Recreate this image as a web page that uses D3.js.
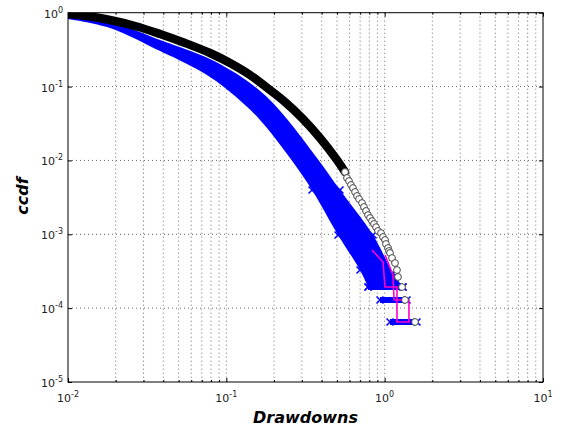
<!DOCTYPE html>
<html lang="en">
<head>
<meta charset="UTF-8">
<title>Drawdowns ccdf</title>
<script src="https://d3js.org/d3.v7.min.js"></script>
<style>
  body { margin: 0; background: #fff; }
  text { font-family: "DejaVu Sans", sans-serif; }
</style>
</head>
<body>
<div id="chart"></div>
<script>
// empirical ccdf of drawdowns (black circles), dense part
const blackLine = [
  [0.0100, 0.960], [0.01377, 0.888], [0.01841, 0.796], [0.02649, 0.661],
  [0.03813, 0.515], [0.05483, 0.389], [0.07883, 0.2847], [0.1055, 0.2084],
  [0.1411, 0.1434], [0.1780, 0.0987], [0.2348, 0.0618], [0.3049, 0.0364],
  [0.3905, 0.0201], [0.5000, 0.01013], [0.5616, 0.00697]
];
// sparse tail of the same series, drawn as open circles
const blackTail = [
  [0.5616, 0.00697], [0.578, 0.00578], [0.5953, 0.00526], [0.613, 0.00465],
  [0.6310, 0.00423], [0.650, 0.00374], [0.6688, 0.00330], [0.689, 0.00300],
  [0.7193, 0.00265], [0.740, 0.00234], [0.7625, 0.00207], [0.785, 0.00182],
  [0.8079, 0.00166], [0.832, 0.00151], [0.8563, 0.00138], [0.882, 0.00125],
  [0.9076, 0.00111], [0.9480, 0.00104], [0.976, 0.000919], [1.005, 0.000837],
  [1.019, 0.000739], [1.050, 0.000652], [1.065, 0.000594], [1.081, 0.000558],
  [1.113, 0.000477], [1.162, 0.000408], [1.196, 0.000328], [1.214, 0.000264],
  [1.287, 0.000193], [1.344, 0.000129], [1.554, 0.0000649]
];
// blue crosses (surrogate series): upper and lower edge of the band
const blueUpper = [
  [0.0100, 0.960], [0.01841, 0.760], [0.03813, 0.427], [0.05483, 0.3224],
  [0.07883, 0.2361], [0.1086, 0.1624], [0.1411, 0.1117], [0.1887, 0.0658],
  [0.2416, 0.0364], [0.3738, 0.01078], [0.5223, 0.00398], [0.8441, 0.000978],
  [1.129, 0.000299], [1.306, 0.000193]
];
const blueLower = [
  [0.0100, 0.822], [0.01841, 0.621], [0.03813, 0.303], [0.05483, 0.2084],
  [0.07883, 0.135], [0.1134, 0.0745], [0.1632, 0.0353], [0.2525, 0.01078],
  [0.3476, 0.00398], [0.5075, 0.000978], [0.6985, 0.000328], [0.7848, 0.000193]
];
// last ccdf levels, where the crosses pile up in rows
const rowLevels = [0.000193, 0.000129, 0.0000649];
const rowStart = [0.7848, 0.9344, 1.081];
const rowEnd = [1.306, 1.384, 1.600];
// magenta step lines visible in the tail
const magentaA = [[0.8318, 0.000613], [0.9761, 0.000421], [1.005, 0.000193], [1.196, 0.000193], [1.196, 0.0000649], [1.445, 0.0000649]];
const magentaB = [[1.005, 0.000524], [1.129, 0.000281], [1.146, 0.000129], [1.424, 0.000129], [1.424, 0.0000649]];

const xMajor = [0.01, 0.1, 1, 10];
const xExp = ["-2", "-1", "0", "1"];
const yMajor = [1e-5, 1e-4, 1e-3, 1e-2, 1e-1, 1];
const yExp = ["-5", "-4", "-3", "-2", "-1", "0"];

const width = 565, height = 428;
const mLeft = 68, mRight = 543, mTop = 12.7, mBottom = 382;

const svg = d3.select("#chart").append("svg")
  .attr("width", width).attr("height", height);

const x = d3.scaleLog().domain([0.01, 10]).range([mLeft, mRight]);
const y = d3.scaleLog().domain([1e-5, 1]).range([mBottom, mTop]);

svg.append("clipPath").attr("id", "plot")
  .append("rect").attr("x", mLeft).attr("y", mTop)
  .attr("width", mRight - mLeft).attr("height", mBottom - mTop);

// dotted grid: every x tick (major and minor), only major y ticks
const xMinor = x.ticks().filter(v => v > 0.01 && v < 10);
const grid = svg.append("g").attr("stroke", "#444").attr("stroke-width", 0.8)
  .attr("stroke-dasharray", "1,3");
grid.selectAll(".gx").data(xMinor).join("line")
  .attr("x1", d => x(d)).attr("x2", d => x(d))
  .attr("y1", mTop).attr("y2", mBottom);
grid.selectAll(".gy").data(yMajor.filter(v => v > 1e-5 && v < 1)).join("line")
  .attr("x1", mLeft).attr("x2", mRight)
  .attr("y1", d => y(d)).attr("y2", d => y(d));

const plot = svg.append("g").attr("clip-path", "url(#plot)");
const line = d3.line().x(d => x(d[0])).y(d => y(d[1]));
const smooth = d3.line().x(d => x(d[0])).y(d => y(d[1])).curve(d3.curveCatmullRom);

// blue band
const upperPath = smooth(blueUpper);
const lowerPath = smooth(blueLower.slice().reverse());
plot.append("path")
  .attr("d", upperPath + "L" + lowerPath.slice(1) + "Z")
  .attr("fill", "#0000ff");

// rows of crosses at the lowest levels
rowLevels.forEach((lv, i) => {
  plot.append("line")
    .attr("x1", x(rowStart[i])).attr("x2", x(rowEnd[i]))
    .attr("y1", y(lv)).attr("y2", y(lv))
    .attr("stroke", "#0000ff").attr("stroke-width", 6);
});

// cross markers along the ragged tail edges and row ends
const crossPts = blueUpper.concat(blueLower).filter(d => d[1] < 0.005)
  .concat(rowLevels.map((lv, i) => [rowStart[i], lv]))
  .concat(rowLevels.map((lv, i) => [rowEnd[i], lv]));
plot.selectAll(".cross").data(crossPts).join("path")
  .attr("d", d => {
    const cx = x(d[0]), cy = y(d[1]), s = 3.5;
    return `M${cx - s},${cy - s}L${cx + s},${cy + s}M${cx - s},${cy + s}L${cx + s},${cy - s}`;
  })
  .attr("stroke", "#0000ff").attr("stroke-width", 1.5).attr("fill", "none");

// magenta steps
[magentaA, magentaB].forEach(s => {
  plot.append("path").attr("d", line(s))
    .attr("fill", "none").attr("stroke", "#ff00cc").attr("stroke-width", 1.6);
});

// black series
plot.append("path")
  .attr("d", smooth(blackLine))
  .attr("fill", "none").attr("stroke", "#000")
  .attr("stroke-width", 8.5).attr("stroke-linecap", "round");

plot.selectAll(".circ").data(blackTail).join("circle")
  .attr("cx", d => x(d[0])).attr("cy", d => y(d[1])).attr("r", 3.4)
  .attr("fill", "#fff").attr("stroke", "#444").attr("stroke-width", 1);

// frame
svg.append("rect").attr("x", mLeft).attr("y", mTop)
  .attr("width", mRight - mLeft).attr("height", mBottom - mTop)
  .attr("fill", "none").attr("stroke", "#000").attr("stroke-width", 1);

// ticks pointing inward on all four sides
function ticks(axisFn, pos, vals, size, transform) {
  svg.append("g").attr("transform", transform)
    .call(axisFn(pos).tickValues(vals).tickSizeInner(size).tickSizeOuter(0).tickFormat(""))
    .call(g => g.select(".domain").remove());
}
const xMinorOnly = xMinor.filter(v => !xMajor.includes(v));
ticks(d3.axisBottom, x, xMajor, -4, `translate(0,${mBottom})`);
ticks(d3.axisBottom, x, xMinorOnly, -2, `translate(0,${mBottom})`);
ticks(d3.axisTop, x, xMajor, -4, `translate(0,${mTop})`);
ticks(d3.axisTop, x, xMinorOnly, -2, `translate(0,${mTop})`);
ticks(d3.axisLeft, y, yMajor, -4, `translate(${mLeft},0)`);
ticks(d3.axisRight, y, yMajor, -4, `translate(${mRight},0)`);

// tick labels as 10 with superscript exponent
svg.append("g").selectAll("text").data(xMajor).join("text")
  .attr("x", d => x(d)).attr("y", mBottom + 20)
  .attr("text-anchor", "middle").attr("font-size", 11).attr("fill", "#222")
  .each(function(d, i) {
    const t = d3.select(this);
    t.append("tspan").text("10");
    t.append("tspan").attr("dy", -5).attr("font-size", 8).text(xExp[i]);
  });
svg.append("g").selectAll("text").data(yMajor).join("text")
  .attr("x", mLeft - 5).attr("y", d => y(d) + 5)
  .attr("text-anchor", "end").attr("font-size", 11).attr("fill", "#222")
  .each(function(d, i) {
    const t = d3.select(this);
    t.append("tspan").text("10");
    t.append("tspan").attr("dy", -5).attr("font-size", 8).text(yExp[i]);
  });

// axis titles
svg.append("text").attr("x", (mLeft + mRight) / 2).attr("y", 423)
  .attr("text-anchor", "middle").attr("font-size", 16)
  .attr("font-weight", "bold").attr("font-style", "italic").text("Drawdowns");
svg.append("text").attr("transform", "translate(28,196) rotate(-90)")
  .attr("text-anchor", "middle").attr("font-size", 16)
  .attr("font-weight", "bold").attr("font-style", "italic").text("ccdf");
</script>
</body>
</html>
